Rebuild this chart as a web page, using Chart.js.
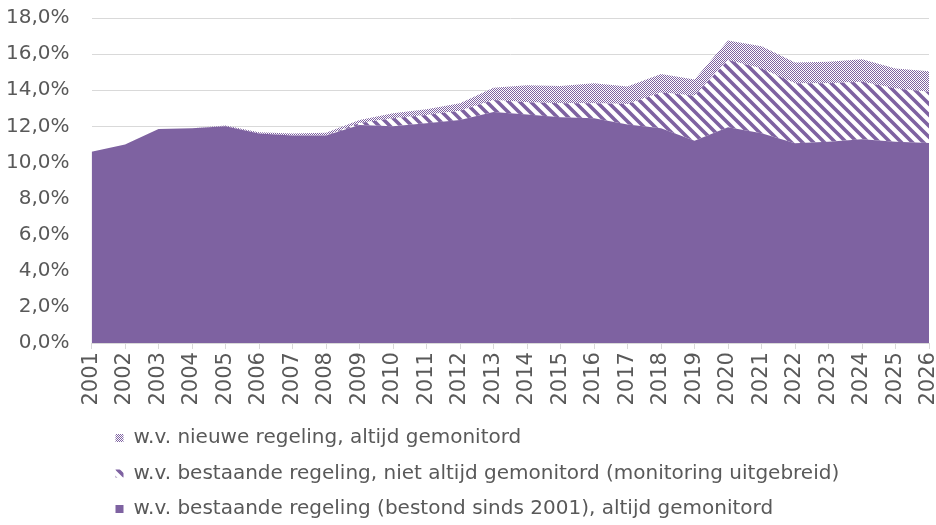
<!DOCTYPE html>
<html>
<head>
<meta charset="utf-8">
<script src="https://cdn.jsdelivr.net/npm/chart.js@4.4.1/dist/chart.umd.min.js"></script>
<style>
  body { margin: 0; background: #fff; }
  #wrap { width: 936px; height: 525px; position: relative; }
</style>
</head>
<body>
<div id="wrap"><canvas id="areaChart"></canvas></div>
<script>
// Data (percentages)
const years = ['2001', '2002', '2003', '2004', '2005', '2006', '2007', '2008', '2009', '2010', '2011', '2012', '2013',
    '2014', '2015', '2016', '2017', '2018', '2019', '2020', '2021', '2022', '2023', '2024', '2025', '2026'];
const bestaandAltijd = [10.6, 11.0, 11.85, 11.9, 12.0, 11.6, 11.5, 11.5, 12.08, 12.0, 12.17, 12.35, 12.8,
    12.65, 12.5, 12.45, 12.1, 11.9, 11.2, 11.95, 11.62, 11.06, 11.15, 11.28, 11.15, 11.08];
const bestaandNietAltijd = [0, 0, 0, 0, 0, 0, 0, 0, 0.1, 0.45, 0.46, 0.52, 0.66,
    0.68, 0.78, 0.83, 1.14, 1.97, 2.5, 3.73, 3.58, 3.32, 3.23, 3.19, 2.95, 2.84];
const nieuwAltijd = [0, 0, 0, 0, 0.05, 0.08, 0.1, 0.15, 0.17, 0.28, 0.32, 0.41, 0.68,
    0.94, 0.96, 1.1, 0.96, 1.03, 0.9, 1.07, 1.23, 1.15, 1.2, 1.25, 1.1, 1.13];
const seriesLabels = [
    'w.v. bestaande regeling (bestond sinds 2001), altijd gemonitord',
    'w.v. bestaande regeling, niet altijd gemonitord (monitoring uitgebreid)',
    'w.v. nieuwe regeling, altijd gemonitord'
];

const purple = '#7E62A1';
const textColor = '#595959';
const gridColor = '#D9D9D9';

// Patterns
function stripePattern() {
    const p = 11;
    const c = document.createElement('canvas');
    c.width = p; c.height = p;
    const g = c.getContext('2d');
    g.fillStyle = '#fff';
    g.fillRect(0, 0, p, p);
    g.strokeStyle = purple;
    g.lineWidth = 3.6;
    g.beginPath();
    for (let k = -1; k <= 1; k++) {
        g.moveTo(k * p - 2, -2);
        g.lineTo(k * p + p + 2, p + 2);
    }
    g.stroke();
    return g.createPattern(c, 'repeat');
}

function dotPattern() {
    const c = document.createElement('canvas');
    c.width = 2; c.height = 2;
    const g = c.getContext('2d');
    g.fillStyle = '#fff';
    g.fillRect(0, 0, 2, 2);
    g.fillStyle = purple;
    g.fillRect(0, 0, 1, 1);
    g.fillRect(1, 1, 1, 1);
    return g.createPattern(c, 'repeat');
}

// Move the legend rows to the right (left aligned) and a bit down
const legendShift = {
    id: 'legendShift',
    afterLayout(chart) {
        chart.legend.left = 100;
        chart.legend.right = 936;
        chart.legend.top += 4;
    }
};

const ctx = document.getElementById('areaChart').getContext('2d');

const chart = new Chart(ctx, {
    type: 'line',
    data: {
        labels: years,
        datasets: [{
            label: seriesLabels[0],
            data: bestaandAltijd,
            backgroundColor: purple,
            fill: 'origin'
        }, {
            label: seriesLabels[1],
            data: bestaandNietAltijd,
            backgroundColor: stripePattern(),
            fill: '-1'
        }, {
            label: seriesLabels[2],
            data: nieuwAltijd,
            backgroundColor: dotPattern(),
            fill: '-1'
        }]
    },
    options: {
        responsive: true,
        maintainAspectRatio: false,
        animation: false,
        elements: {
            line: { borderWidth: 0, tension: 0 },
            point: { radius: 0 }
        },
        layout: {
            padding: { top: 18, left: -16, right: 7, bottom: 0 }
        },
        scales: {
            x: {
                offset: false,
                afterFit: (scale) => { scale.paddingRight = 0; },
                grid: {
                    drawOnChartArea: false,
                    drawTicks: true,
                    tickLength: 6,
                    color: gridColor
                },
                border: { display: true, color: gridColor },
                ticks: {
                    color: textColor,
                    minRotation: 90,
                    maxRotation: 90,
                    autoSkip: false,
                    padding: 3,
                    font: { family: 'DejaVu Sans', size: 21 }
                }
            },
            y: {
                stacked: true,
                min: 0,
                max: 18,
                afterFit: (scale) => { scale.paddingTop = 0; },
                grid: {
                    color: gridColor,
                    drawTicks: false
                },
                border: { display: false },
                ticks: {
                    stepSize: 2,
                    color: textColor,
                    padding: 22,
                    font: { family: 'DejaVu Sans', size: 20 },
                    callback: (v) => v.toFixed(1).replace('.', ',') + '%'
                }
            }
        },
        plugins: {
            legend: {
                position: 'bottom',
                align: 'start',
                reverse: true,
                maxWidth: 760,
                labels: {
                    color: textColor,
                    boxWidth: 8,
                    boxHeight: 8,
                    padding: 15.5,
                    font: { family: 'DejaVu Sans', size: 20 }
                }
            },
            tooltip: { enabled: false }
        }
    },
    plugins: [legendShift]
});
</script>
</body>
</html>
